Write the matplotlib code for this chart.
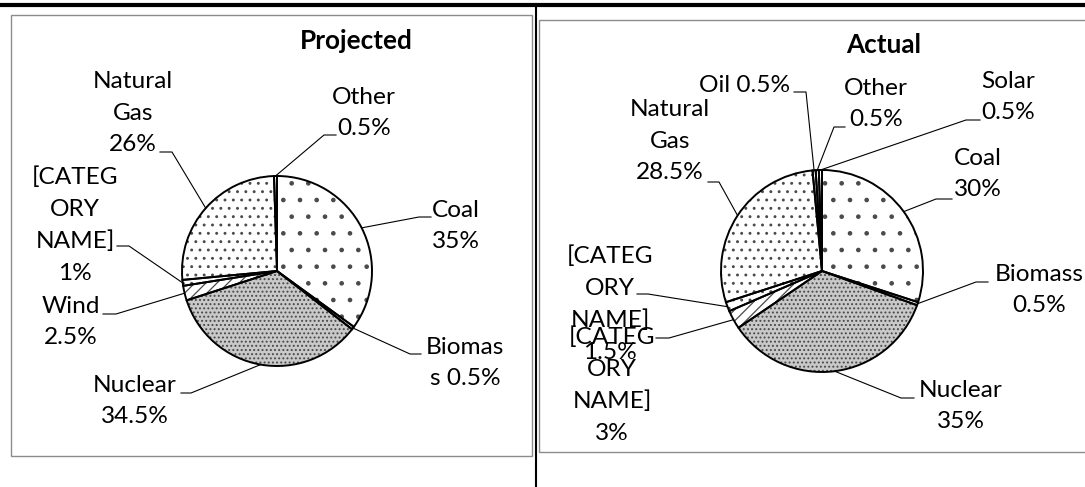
import numpy as np
import matplotlib
matplotlib.use('Agg')
import matplotlib.pyplot as plt
from matplotlib.patches import Rectangle

plt.rcParams['font.family'] = ['Lato', 'DejaVu Sans']
plt.rcParams['hatch.linewidth'] = 0.9

# canvas size in pixels (layout below is given in pixels, y measured from the top)
W, H = 1085, 487

# data
##############################################################################################
proj_names = ['Coal', 'Biomas', 'Nuclear', 'Wind', '[CATEG\nORY\nNAME]', 'Natural\nGas', 'Other']
proj_seps = ['\n', '\ns ', '\n', '\n', '\n', '\n', '\n']
proj_values = [35, 0.5, 34.5, 2.5, 1, 26, 0.5]

act_names = ['Coal', 'Biomass', 'Nuclear', '[CATEG\nORY\nNAME]', '[CATEG\nORY\nNAME]',
             'Natural\nGas', 'Oil', 'Other', 'Solar']
act_seps = ['\n', '\n', '\n', '\n', '\n', '\n', ' ', '\n', '\n']
act_values = [30, 0.5, 35, 3, 1.5, 28.5, 0.5, 0.5, 0.5]
##############################################################################################

# fills (greyscale print patterns)
proj_hatch = ['.', '', '....', '///', '..', '..', '']
proj_face = ['white', 'white', '#c9c9c9', 'white', 'white', 'white', 'white']
act_hatch = ['.', '', '....', '///', '..', '..', '', '', '']
act_face = ['white', 'white', '#c9c9c9', 'white', 'white', 'white', 'white', 'white', 'white']

# label layout: text centre (x, y) and elbow of the leader (x_text_side, x_pie_side, y)
proj_txt = [(456, 226), (465, 363), (135, 401), (71, 322), (75, 225), (133, 113), (364, 113)]
proj_elb = [(431, 419, 217), (421, 410, 354), (181, 191, 393), (103, 116, 314),
            (117, 129, 246), (160, 172, 152), (336, 324, 135)]
act_txt = [(978, 174), (1039, 290), (961, 406), (612, 385), (610, 304), (670, 141),
           (745, 86), (876, 104), (1008, 97)]
act_elb = [(952, 936, 199), (988, 976, 282), (914, 901, 398), (656, 669, 338),
           (637, 648, 294), (708, 719, 182), (794, 806, 92), (845, 834, 127), (980, 966, 120)]

FS = 17.6
LS = 1.62


def fy(y):
    return H - y


def draw_pie(ax, values, names, seps, faces, hatches, txt, elb, cx, cy, r, title, tpos):
    # pattern layer (hatch takes the grey edge colour), then black outlines on top
    ax.pie(values, colors=faces, hatch=hatches, startangle=90, counterclock=False,
           center=(cx, fy(cy)), radius=r, frame=True,
           wedgeprops=dict(edgecolor='#4a4a4a', linewidth=0))
    ax.pie(values, colors=['none'] * len(values), startangle=90, counterclock=False,
           center=(cx, fy(cy)), radius=r, frame=True,
           wedgeprops=dict(edgecolor='black', linewidth=1.4))
    vals = np.asarray(values, dtype=float)
    cum = np.cumsum(vals) - vals / 2
    ang = np.deg2rad(90 - 360 * cum / vals.sum())
    for i, v in enumerate(values):
        px = cx + r * np.cos(ang[i])
        py = fy(cy) + r * np.sin(ang[i])
        x0, x1, ye = elb[i]
        ax.plot([x0, x1, px], [fy(ye), fy(ye), py], color='black', lw=0.8, zorder=1)
        ax.text(txt[i][0], fy(txt[i][1]), names[i] + seps[i] + f'{v:g}%',
                ha='center', va='center', multialignment='center',
                fontsize=FS, linespacing=LS, color='black')
    ax.text(tpos[0], fy(tpos[1]), title, ha='center', va='center',
            fontsize=FS + 1.2, fontweight='bold')


fig = plt.figure(figsize=(W / 100, H / 100), dpi=100)
ax = fig.add_axes([0, 0, 1, 1])

# table rules and chart frames
ax.plot([0, W], [fy(5), fy(5)], color='black', lw=3.0, solid_capstyle='butt')
ax.plot([536, 536], [fy(5), 0], color='black', lw=1.5, solid_capstyle='butt')
ax.add_patch(Rectangle((11, fy(456)), 532 - 11, 456 - 15, fill=False,
                       edgecolor='#8c8c8c', lw=1.0))
ax.add_patch(Rectangle((539, fy(452)), 1100 - 539, 452 - 20, fill=False,
                       edgecolor='#8c8c8c', lw=1.0))

draw_pie(ax, proj_values, proj_names, proj_seps, proj_face, proj_hatch,
         proj_txt, proj_elb, 277, 271, 95, 'Projected', (356, 41))
draw_pie(ax, act_values, act_names, act_seps, act_face, act_hatch,
         act_txt, act_elb, 822, 271, 101, 'Actual', (884, 45))

ax.set_xlim(0, W)
ax.set_ylim(0, H)
ax.set_aspect('auto')
ax.axis('off')

fig.savefig('out.png', dpi=100)
